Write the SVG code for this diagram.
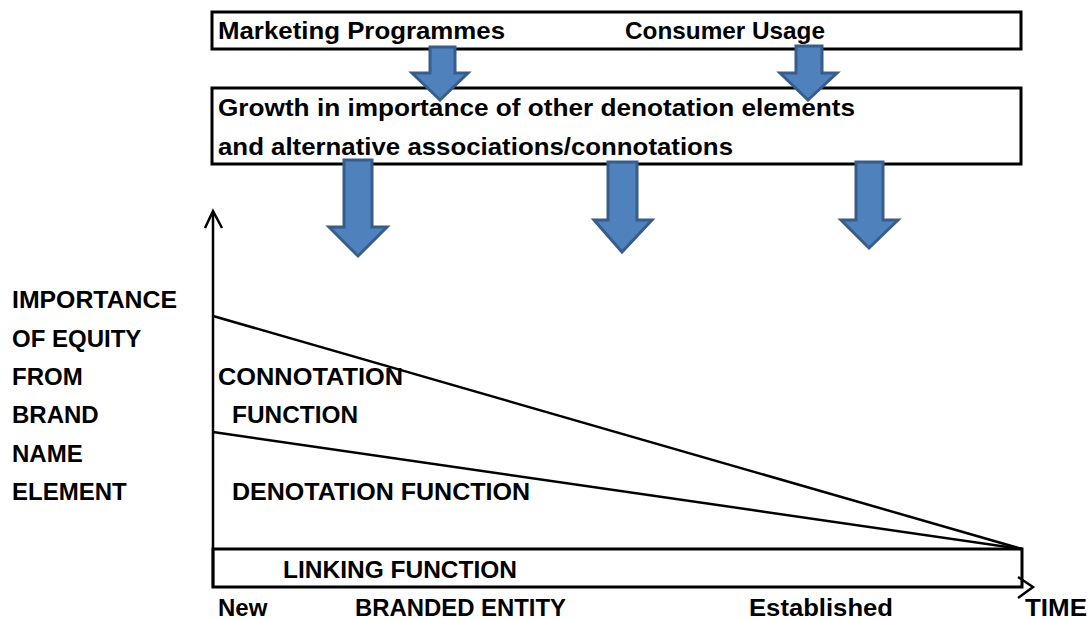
<svg xmlns="http://www.w3.org/2000/svg" width="1090" height="619" viewBox="0 0 1090 619">
<style>
text{font-family:"Liberation Sans",Arial,sans-serif;font-weight:bold;font-size:24px;fill:#000}
.box{fill:#fff;stroke:#000;stroke-width:3}
.ln{fill:none;stroke:#000;stroke-width:2.5}
.arr{fill:#4F81BD;stroke:#385D8A;stroke-width:3;stroke-linejoin:miter}
</style>
<rect width="1090" height="619" fill="#fff"/>
<g id="top-box">
<rect class="box" x="212" y="12" width="809" height="37"/>
<text x="218" y="39" textLength="287" lengthAdjust="spacingAndGlyphs">Marketing Programmes</text>
<text x="625" y="39" textLength="200" lengthAdjust="spacingAndGlyphs">Consumer Usage</text>
</g>
<g id="growth-box">
<rect class="box" x="212" y="88" width="809" height="76"/>
<text x="218" y="116" textLength="637" lengthAdjust="spacingAndGlyphs">Growth in importance of other denotation elements</text>
<text x="218" y="155" textLength="515" lengthAdjust="spacingAndGlyphs">and alternative associations/connotations</text>
</g>
<g id="axes">
<rect class="box" x="213" y="549" width="809" height="38"/>
<polyline class="ln" points="213,587 213,212"/>
<polyline class="ln" points="205,228 213,211 222,228"/>
<polyline class="ln" points="1018,577 1033,587 1018,598"/>
<line class="ln" x1="213" y1="316" x2="1022" y2="549"/>
<line class="ln" x1="213" y1="432" x2="1022" y2="549"/>
</g>
<g id="arrows">
<polygon class="arr" points="430,47 455,47 455,73 468,73 440,100 412,73 430,73"/>
<polygon class="arr" points="796,46 822,46 822,73 837,73 808,100 780,73 796,73"/>
<polygon class="arr" points="344,160 372,160 372,227 387,227 358,256 329,227 344,227"/>
<polygon class="arr" points="608,162 637,162 637,220 652,220 622,252 594,220 608,220"/>
<polygon class="arr" points="856,162 883,162 883,220 898,220 869,248 841,220 856,220"/>
</g>
<g id="y-label">
<text x="12" y="308" textLength="165" lengthAdjust="spacingAndGlyphs">IMPORTANCE</text>
<text x="12" y="347">OF EQUITY</text>
<text x="12" y="385">FROM</text>
<text x="12" y="423">BRAND</text>
<text x="12" y="462">NAME</text>
<text x="12" y="500">ELEMENT</text>
</g>
<g id="regions">
<text x="218" y="385" textLength="185" lengthAdjust="spacingAndGlyphs">CONNOTATION</text>
<text x="232" y="423" textLength="126" lengthAdjust="spacingAndGlyphs">FUNCTION</text>
<text x="232" y="500" textLength="298" lengthAdjust="spacingAndGlyphs">DENOTATION FUNCTION</text>
<text x="283" y="578" textLength="234" lengthAdjust="spacingAndGlyphs">LINKING FUNCTION</text>
</g>
<g id="x-label">
<text x="218" y="616">New</text>
<text x="355" y="616" textLength="211" lengthAdjust="spacingAndGlyphs">BRANDED ENTITY</text>
<text x="749" y="616" textLength="144" lengthAdjust="spacingAndGlyphs">Established</text>
<text x="1025" y="616" textLength="62" lengthAdjust="spacingAndGlyphs">TIME</text>
</g>
</svg>
